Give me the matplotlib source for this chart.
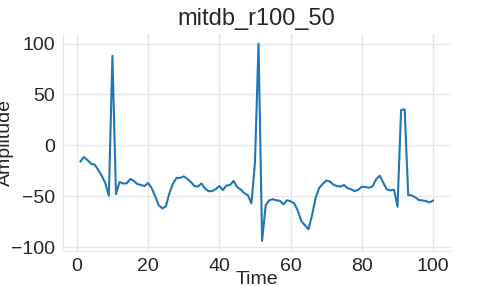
import matplotlib
matplotlib.use('Agg')
from matplotlib import pyplot as plt
import seaborn as sns

sns.set_style('whitegrid')
plt.rcParams['font.family'] = ['Liberation Sans', 'DejaVu Sans']

# one ECG segment
time = list(range(1, 101))
amplitude = [
    -16, -11.5, -14.5, -18, -19, -24, -30, -37, -49.5, 88,
    -48, -36, -37.5, -37.5, -33, -35, -38, -39, -40, -37,
    -42, -50, -59, -62, -60, -47, -37.5, -32, -32, -30.5,
    -33, -36, -40, -40.5, -37.5, -42.5, -45, -45, -43, -40,
    -44, -39.5, -39, -35, -41, -43.5, -47, -49, -57, -17,
    100, -94, -59, -54, -53, -54, -54.5, -58, -54, -55,
    -57, -64, -74.5, -78.5, -82.5, -69, -52, -42, -38, -34.6,
    -35.6, -38.6, -40, -40.6, -39, -42, -43.3, -45, -43.6, -40.6,
    -41, -41.6, -40.3, -33.4, -29.8, -36.7, -43.3, -44.3, -43.6, -60.3,
    34.7, 35.4, -48.9, -49.2, -51.2, -53.8, -54.2, -54.8, -56.1, -54.2,
]

fig = plt.figure(figsize=(5, 2.86), dpi=100)
ax = fig.add_axes([0.1254, 0.123, 0.7762, 0.759])
ax.plot(time, amplitude, color='#1f77b4', linewidth=1.5)

ax.set_title('mitdb_r100_50', fontsize=17, color='#262626')
ax.set_xlabel('Time', fontsize=14, labelpad=-3, color='#262626')
ax.set_ylabel('Amplitude', fontsize=14, labelpad=-2, color='#262626')
ax.tick_params(labelsize=14, pad=2, colors='#262626')
ax.set_yticks([-100, -50, 0, 50, 100])

ax.grid(color='#e6e6e6', linewidth=1)
for side in ['top', 'right']:
    ax.spines[side].set_visible(False)
for side in ['left', 'bottom']:
    ax.spines[side].set_color('#e6e6e6')

fig.savefig('out.png', dpi=100)
